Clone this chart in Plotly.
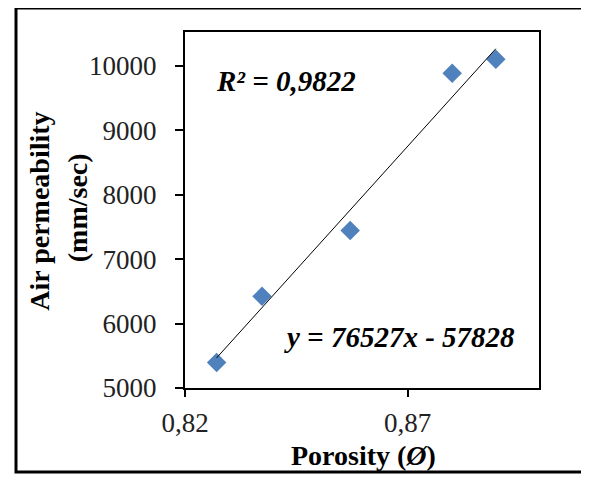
import plotly.graph_objects as go
import numpy as np

# Data
porosity = [0.8271, 0.8373, 0.8571, 0.8800, 0.8898]
air_perm = [5394, 6422, 7445, 9886, 10104]

# Trendline coefficients as shown on the chart
slope = 76527
intercept = -57828
r2_text = "R² = 0,9822"
eq_text = "y = 76527x - 57828"

x_tickvals = [0.82, 0.87]
x_ticktext = ["0,82", "0,87"]
y_tickvals = [5000, 6000, 7000, 8000, 9000, 10000]
y_ticktext = ["5000", "6000", "7000", "8000", "9000", "10000"]

serif = "Liberation Serif, Times New Roman, serif"

tx = np.array([min(porosity), max(porosity)])
ty = slope * tx + intercept

fig = go.Figure()
fig.add_trace(go.Scatter(
    x=porosity, y=air_perm, mode="markers",
    marker=dict(symbol="diamond", size=15, color="#4F81BD",
                line=dict(width=0)),
    showlegend=False, hoverinfo="skip"))
fig.add_trace(go.Scatter(
    x=tx, y=ty, mode="lines",
    line=dict(color="black", width=1),
    showlegend=False, hoverinfo="skip"))

fig.update_layout(
    width=581, height=469,
    margin=dict(l=177, r=50, t=24, b=89, pad=0),
    paper_bgcolor="white", plot_bgcolor="white",
    font=dict(family=serif, color="black"),
    xaxis=dict(range=[0.82, 0.8995], tickvals=x_tickvals, ticktext=x_ticktext,
               showgrid=False, zeroline=False, showline=True, mirror=True,
               linecolor="black", linewidth=2, ticks="outside", ticklen=7,
               tickwidth=2, tickcolor="black", ticklabelstandoff=3,
               tickfont=dict(family=serif, size=27, color="#222")),
    yaxis=dict(range=[5000, 10525], tickvals=y_tickvals, ticktext=y_ticktext,
               showgrid=False, zeroline=False, showline=True, mirror=True,
               linecolor="black", linewidth=2, ticks="outside", ticklen=8,
               tickwidth=2, tickcolor="black", ticklabelstandoff=13,
               tickfont=dict(family=serif, size=27, color="#222")),
    shapes=[dict(type="rect", xref="paper", yref="paper",
                 x0=-0.4774, x1=1.1299, y0=-0.2360, y1=1.0674,
                 line=dict(color="black", width=3), fillcolor="rgba(0,0,0,0)",
                 layer="below")],
    annotations=[
        dict(text=r2_text, xref="paper", yref="paper", x=0.285, y=0.862,
             xanchor="center", yanchor="middle", showarrow=False,
             font=dict(family=serif, size=29, weight="bold", style="italic",
                       color="black")),
        dict(text=eq_text, xref="paper", yref="paper", x=0.607, y=0.143,
             xanchor="center", yanchor="middle", showarrow=False,
             font=dict(family=serif, size=29, weight="bold", style="italic",
                       color="black")),
        dict(text="Air permeability", xref="paper", yref="paper",
             x=-0.4096, y=0.495, xanchor="center", yanchor="middle",
             textangle=-90, showarrow=False,
             font=dict(family=serif, size=28, weight="bold", color="black")),
        dict(text="(mm/sec)", xref="paper", yref="paper",
             x=-0.305, y=0.505, xanchor="center", yanchor="middle",
             textangle=-90, showarrow=False,
             font=dict(family=serif, size=28, weight="bold", color="black")),
        dict(text="Porosity (<i>Ø</i>)", xref="paper", yref="paper",
             x=0.503, y=-0.191, xanchor="center", yanchor="middle",
             showarrow=False,
             font=dict(family=serif, size=28, weight="bold", color="black")),
    ],
)

fig.write_html("out.html")
